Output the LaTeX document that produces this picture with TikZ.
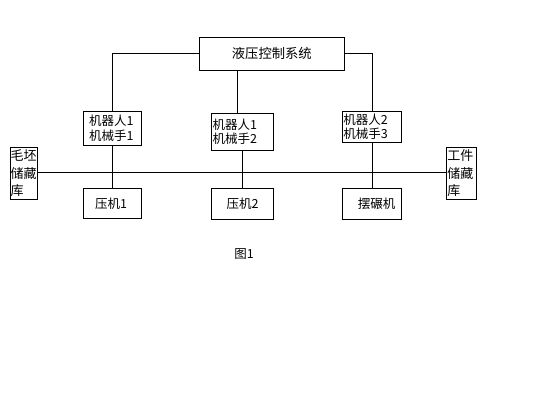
\documentclass[tikz,border=0pt]{standalone}
\usepackage{fontspec}
\usetikzlibrary{calc}
\setmainfont{Noto Sans CJK SC}
\begin{document}
\begin{tikzpicture}[x=1pt,y=-1pt,
  every node/.style={font=\fontsize{12.5}{14.2}\selectfont},
  box/.style={draw,line width=0.9pt,inner sep=0pt},
  conn/.style={line width=0.9pt}]
\useasboundingbox[fill=white] (0,0) rectangle (552,415);
% top
\node[box,minimum width=144.4pt,minimum height=33pt,font=\fontsize{13.3}{15}\selectfont] (H) at (271.8,53.8) {液压控制系统};
% robots
\node[box,minimum width=58.4pt,minimum height=33.7pt,text width=47pt,inner xsep=5.7pt,align=left] (A) at (112.5,128.3) {机器人1\\机械手1};
\node[box,minimum width=61.6pt,minimum height=36.7pt,text width=59.6pt,inner xsep=1pt,align=left] (B) at (242.5,131.7) {机器人1\\机械手2};
\node[box,minimum width=59pt,minimum height=31.2pt,text width=57.6pt,inner xsep=0.7pt,align=left] (C) at (372.2,127.1) {机器人2\\机械手3};
% machines
\node[box,minimum width=58.4pt,minimum height=30.2pt] (P1) at (112.5,203.4) {\hspace*{-3pt}压机1};
\node[box,minimum width=61.6pt,minimum height=31pt] (P2) at (242.5,203.8) {压机2};
\node[box,minimum width=59pt,minimum height=31pt] (P3) at (372.2,203.8) {\hspace*{9pt}摆碾机};
% stores
\node[box,minimum width=27pt,minimum height=52pt,text width=27pt,align=left,font=\fontsize{13}{17.5}\selectfont] (M) at (24,173.4) {毛坯\\储藏\\库};
\node[box,minimum width=29pt,minimum height=52pt,text width=29pt,inner xsep=0.5pt,align=left,font=\fontsize{13}{17.5}\selectfont] (W) at (461.8,173.6) {工件\\储藏\\库};
% caption
\node (F) at (244,254.5) {图1};
% connectors
\coordinate (Bt) at ($(B.north)+(-5,0)$);
\draw[conn] (H.west) -| (A.north);
\draw[conn] (H.east) -| (C.north);
\draw[conn] (H.south -| Bt) -- (Bt);
\draw[conn] (A.south) -- (P1.north);
\draw[conn] (B.south) -- (P2.north);
\draw[conn] (C.south) -- (P3.north);
\draw[conn] (M.east |- 0,172.7) -- (W.west |- 0,172.7);
\end{tikzpicture}
\end{document}
